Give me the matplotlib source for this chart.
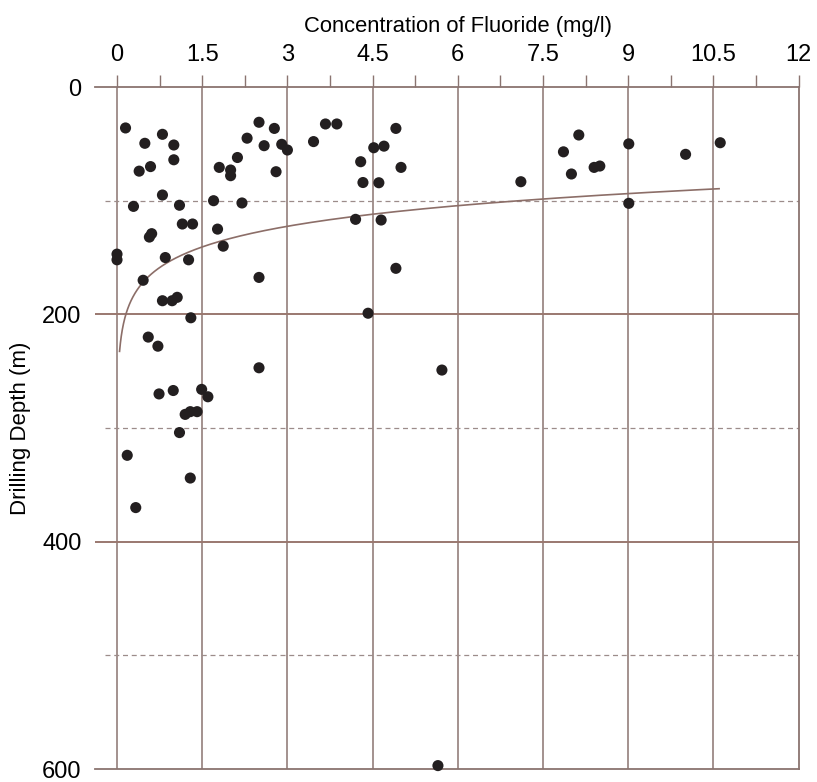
import numpy as np
import matplotlib
matplotlib.use('Agg')
import matplotlib.pyplot as plt

# fluoride concentration (mg/l) and drilling depth (m)
fluoride = [0.15, 0.49, 0.80, 1.00, 1.00, 0.59, 0.39, 0.80, 0.29, 1.10,
            1.15, 1.33, 0.61, 0.57, 0.00, 0.00, 0.85, 1.26, 0.46, 0.80,
            0.97, 1.06, 1.30, 0.55, 0.72, 0.74, 0.99, 1.49, 1.60, 1.20,
            1.29, 1.41, 1.10, 0.18, 1.29, 0.33, 1.80, 2.00, 2.00, 2.80,
            1.70, 2.20, 1.77, 1.87, 2.50, 2.50, 2.50, 2.77, 2.29, 2.59,
            2.90, 3.00, 2.12, 3.46, 3.67, 3.87, 4.91, 4.52, 4.70, 4.29,
            5.00, 4.33, 4.61, 4.20, 4.65, 4.91, 4.42, 5.72, 5.65, 7.11,
            8.13, 7.86, 8.00, 8.40, 8.50, 9.01, 9.01, 10.01, 10.62]
depth = [36, 49.5, 41.6, 51, 64, 70, 74, 95, 105, 104,
         120.5, 120.5, 129, 132, 147, 152, 150, 152, 170, 188,
         188, 185, 203, 220, 228, 270, 267, 266, 272.5, 288,
         285.6, 285.6, 304, 324, 344, 370, 70.7, 73, 78, 74.5,
         100, 102, 125, 140, 167.5, 247, 31, 36.4, 45, 51.6,
         50.4, 55.4, 62, 48, 32.5, 32.5, 36.4, 53.4, 52, 65.7,
         70.7, 84, 84.2, 116.4, 117, 159.5, 199, 249, 597, 83.3,
         42.2, 57, 76.5, 70.7, 69.5, 50, 102.3, 59.2, 49]

# logarithmic trend line: depth = A - B*ln(F)
TREND_A, TREND_B = 151.3, 26.2
TREND_RANGE = (0.045, 10.6)

xticks = [0, 1.5, 3, 4.5, 6, 7.5, 9, 10.5, 12]
xticklabels = ['0', '1.5', '3', '4.5', '6', '7.5', '9', '10.5', '12']
yticks = [0, 200, 400, 600]

GRID = '#8a7470'
HLINE = '#9a7870'
DASH = '#9c8c8a'

plt.rcParams['font.family'] = ['Liberation Sans', 'DejaVu Sans']

fig = plt.figure(figsize=(8.17, 7.82), dpi=100)
ax = fig.add_axes([0.1168, 0.0166, 0.8607, 0.8721])

ax.set_xlim(-0.38, 12)
ax.set_ylim(600, 0)

# grid
for x in xticks[:-1]:
    ax.axvline(x, color=GRID, lw=1.1, zorder=1)
for y in (200, 400):
    ax.axhline(y, color=HLINE, lw=1.4, zorder=1)
ax.hlines([100, 300, 500], -0.21, 12, colors=DASH, lw=0.9,
          linestyles=(0, (4, 3)), zorder=1)

# trend curve
tx = np.geomspace(*TREND_RANGE, 300)
ax.plot(tx, TREND_A - TREND_B * np.log(tx), color='#8c6e68', lw=1.2, zorder=2)

ax.scatter(fluoride, depth, s=64, color='#231f20', edgecolors='none',
           zorder=3, clip_on=False)

for side in ('top', 'right', 'bottom'):
    ax.spines[side].set_color(GRID)
    ax.spines[side].set_linewidth(1.3)
ax.spines['left'].set_visible(False)

ax.xaxis.tick_top()
ax.set_xticks(xticks)
ax.set_xticklabels(xticklabels)
ax.set_xticks(np.arange(0.75, 12, 1.5), minor=True)
ax.tick_params(axis='x', which='both', direction='out', length=8.5,
               width=1.0, color=GRID, labelsize=17, pad=7)
ax.set_yticks(yticks)
ax.tick_params(axis='y', length=0, labelsize=17, pad=10)

fig.text(0.5606, 0.9587, 'Concentration of Fluoride (mg/l)', fontsize=15.8,
         ha='center', va='baseline')
fig.text(0.0245, 0.4527, 'Drilling Depth (m)', fontsize=16, rotation=90,
         ha='center', va='center')

fig.savefig('out.png', dpi=100)
